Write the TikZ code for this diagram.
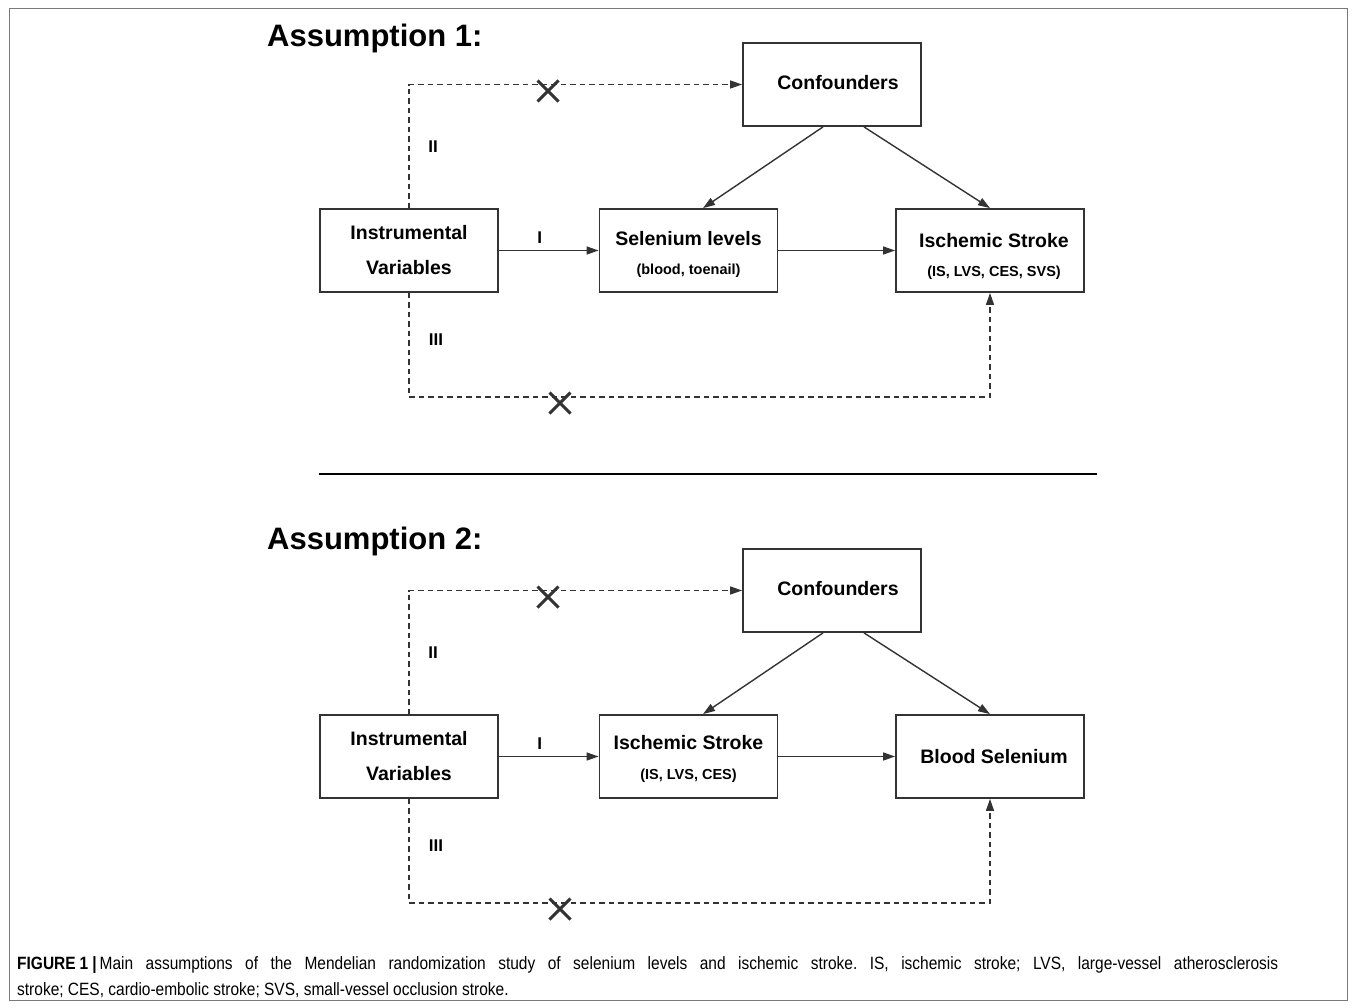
\documentclass[tikz,border=0pt]{standalone}
\usepackage{fontspec}
\setmainfont{Liberation Sans}
\newfontfamily\capfont[FakeStretch = 0.87]{Liberation Sans}
\usepackage{xcolor}
\usetikzlibrary{arrows.meta,shapes.misc}
\definecolor{vdark}{HTML}{333333}
\definecolor{vframe}{HTML}{7A7A7A}
\tikzset{
	box/.style = {draw = vdark, line width = 1.8pt, minimum width = 178pt, minimum height = 83pt, inner sep = 0pt},
	wbox/.style = {box, minimum width = 188pt},
	head/.style = {font = \bfseries\fontsize{19.5}{22}\selectfont, inner sep = 0pt},
	sub/.style = {font = \bfseries\fontsize{14.5}{17}\selectfont, inner sep = 0pt},
	arr/.style = {draw = vdark, line width = 1.4pt, -{Triangle[length = 12pt, width = 8pt]}},
	dasharr/.style = {arr, dash pattern = on 5.5pt off 4pt},
	roman/.style = {font = \bfseries\fontsize{17}{20}\selectfont, inner sep = 0pt},
	xmark/.style = {draw = vdark, cross out, line width = 3pt, minimum size = 18pt, inner sep = 0pt},
	title/.style = {font = \bfseries\fontsize{31}{36}\selectfont, anchor = west, inner sep = 0pt},
	captext/.style = {font = \capfont\fontsize{17.8}{22}\selectfont\frenchspacing, anchor = west, inner sep = 0pt}
}
\begin{document}
\begin{tikzpicture}[x = 1pt, y = -1pt]
	\useasboundingbox (0,0) rectangle (1355,1007);
	% frame
	\draw[draw = vframe, line width = 1pt] (9,8) rectangle (1347,1000);

	% assumption-1
	\node[title] (t1) at (267,38) {Assumption 1:};
	\node[box] (conf1) at (832,84.5) {};
	\node[head] (conf1t) at (838,83) {Confounders};
	\node[box] (iv1) at (409,250.5) {};
	\node[head] (iv1a) at ([yshift = 17.5pt]iv1.center) {Instrumental};
	\node[head] (iv1b) at ([yshift = -17.5pt]iv1.center) {Variables};
	\node[box] (sel1) at (688.5,250.5) {};
	\node[head] (sel1a) at ([yshift = 11.5pt]sel1.center) {Selenium levels};
	\node[sub] (sel1b) at ([yshift = -20.5pt]sel1.center) {(blood, toenail)};
	\node[wbox] (is1) at (990,250.5) {};
	\node[head] (is1a) at ([xshift = 4pt, yshift = 9.5pt]is1.center) {Ischemic Stroke};
	\node[sub] (is1b) at ([xshift = 4pt, yshift = -22.5pt]is1.center) {(IS, LVS, CES, SVS)};
	\coordinate (low1) at (990,397);

	\draw[arr] (iv1) -- (sel1) node[pos = 0.41, above = 6pt, roman]{I};
	\draw[arr] (sel1) -- (is1);
	\draw[arr] ([xshift = -9pt]conf1.south) -- ([xshift = 14.5pt]sel1.north);
	\draw[arr] ([xshift = 32pt]conf1.south) -- (is1.north);
	\draw[dasharr] (iv1.north) |- (conf1.west);
	\draw[dasharr] (iv1.south) |- (low1) -- (is1.south);
	\node[roman] (r2a) at (433,147) {II};
	\node[roman] (r3a) at (436,340) {III};
	\node[xmark] (x1a) at (548,91) {};
	\node[xmark] (x1b) at (560,403) {};

	% separator
	\draw[line width = 2.4pt] (319,474) -- (1097,474);

	% assumption-2
	\node[title] (t2) at (267,541) {Assumption 2:};
	\node[box] (conf2) at (832,590.5) {};
	\node[head] (conf2t) at (838,589) {Confounders};
	\node[box] (iv2) at (409,756.5) {};
	\node[head] (iv2a) at ([yshift = 17.5pt]iv2.center) {Instrumental};
	\node[head] (iv2b) at ([yshift = -17.5pt]iv2.center) {Variables};
	\node[box] (is2) at (688.5,756.5) {};
	\node[head] (is2a) at ([yshift = 13.5pt]is2.center) {Ischemic Stroke};
	\node[sub] (is2b) at ([yshift = -19.5pt]is2.center) {(IS, LVS, CES)};
	\node[wbox] (bs2) at (990,756.5) {};
	\node[head] (bs2t) at ([xshift = 4pt]bs2.center) {Blood Selenium};
	\coordinate (low2) at (990,903);

	\draw[arr] (iv2) -- (is2) node[pos = 0.41, above = 6pt, roman]{I};
	\draw[arr] (is2) -- (bs2);
	\draw[arr] ([xshift = -9pt]conf2.south) -- ([xshift = 14.5pt]is2.north);
	\draw[arr] ([xshift = 32pt]conf2.south) -- (bs2.north);
	\draw[dasharr] (iv2.north) |- (conf2.west);
	\draw[dasharr] (iv2.south) |- (low2) -- (bs2.south);
	\node[roman] (r2b) at (433,653) {II};
	\node[roman] (r3b) at (436,846) {III};
	\node[xmark] (x2a) at (548,597) {};
	\node[xmark] (x2b) at (560,909) {};

	% caption
	\node[captext] (cap1) at (17,965) {\makebox[1261pt][s]{{\bfseries FIGURE\hspace{4pt}1\hspace{4pt}|}\hspace{3pt}Main assumptions of the Mendelian randomization study of selenium levels and ischemic stroke. IS, ischemic stroke; LVS, large-vessel atherosclerosis}};
	\node[captext] (cap2) at (17,990) {stroke; CES, cardio-embolic stroke; SVS, small-vessel occlusion stroke.};
\end{tikzpicture}
\end{document}
